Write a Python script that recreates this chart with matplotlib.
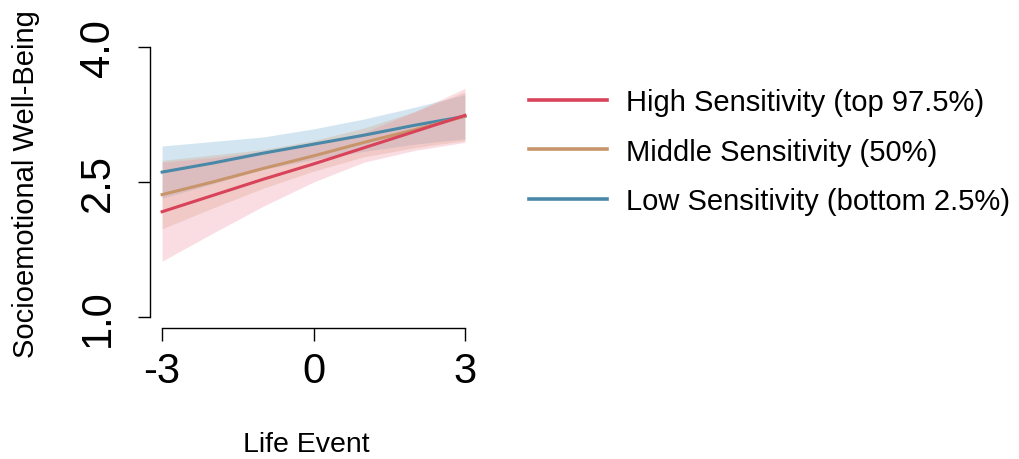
import numpy as np
import matplotlib.pyplot as plt

plt.rcParams['font.family'] = ['Liberation Sans', 'DejaVu Sans']

# Life event (standardised)
x = [-3, -2, -1, 0, 1, 2, 3]

# Low sensitivity (bottom 2.5%)
low_fit = [2.61, 2.71, 2.82, 2.92, 3.02, 3.13, 3.23]
low_lo = [2.32, 2.48, 2.64, 2.75, 2.84, 2.92, 2.98]
low_hi = [2.90, 2.95, 3.00, 3.09, 3.20, 3.33, 3.47]

# Middle sensitivity (50%)
mid_fit = [2.36, 2.50, 2.65, 2.79, 2.94, 3.08, 3.23]
mid_lo = [1.98, 2.21, 2.43, 2.62, 2.78, 2.88, 2.96]
mid_hi = [2.74, 2.80, 2.86, 2.96, 3.10, 3.28, 3.50]

# High sensitivity (top 97.5%)
high_fit = [2.17, 2.35, 2.53, 2.70, 2.88, 3.06, 3.24]
high_lo = [1.62, 1.93, 2.23, 2.50, 2.72, 2.85, 2.94]
high_hi = [2.72, 2.77, 2.84, 2.92, 3.05, 3.28, 3.54]

labels = ['High Sensitivity (top 97.5%)', 'Middle Sensitivity (50%)',
          'Low Sensitivity (bottom 2.5%)']
line_cols = ['#D9435A', '#C8956A', '#4A88A8']
band_cols = ['#F090A0', '#D4A580', '#9CC6DE']

fig = plt.figure(figsize=(10.19, 4.6), dpi=100)
ax = fig.add_axes([150 / 1019, (460 - 328.8) / 460, 327 / 1019, 291.6 / 460])

# bands first, then lines
ax.fill_between(x, low_lo, low_hi, color=band_cols[2], alpha=0.45, lw=0)
ax.fill_between(x, mid_lo, mid_hi, color=band_cols[1], alpha=0.3, lw=0)
ax.fill_between(x, high_lo, high_hi, color=band_cols[0], alpha=0.3, lw=0)

h3, = ax.plot(x, low_fit, color=line_cols[2], lw=2.2)
h2, = ax.plot(x, mid_fit, color=line_cols[1], lw=2.2)
h1, = ax.plot(x, high_fit, color=line_cols[0], lw=2.2)

ax.set_xlim(-3.24, 3.24)
ax.set_ylim(0.88, 4.12)
ax.set_xticks([-3, 0, 3])
ax.set_xticklabels(['-3', '0', '3'])
ax.set_yticks([1.0, 2.5, 4.0])
ax.set_yticklabels(['1.0', '2.5', '4.0'])
for s in ['top', 'right']:
    ax.spines[s].set_visible(False)
ax.spines['left'].set_bounds(1.0, 4.0)
ax.spines['bottom'].set_bounds(-3, 3)
for s in ['left', 'bottom']:
    ax.spines[s].set_linewidth(1.0)
ax.tick_params(axis='both', length=9, width=1.0, labelsize=30)
ax.tick_params(axis='y', pad=14)
ax.tick_params(axis='x', pad=8)
plt.setp(ax.get_yticklabels(), rotation=90, va='center')

fig.text(26 / 1019, 1 - 184 / 460, 'Socioemotional Well-Being', rotation=90,
         ha='center', va='center', fontsize=21)
fig.text(306 / 1019, 1 - 445 / 460, 'Life Event', ha='center', va='center',
         fontsize=20.5)

fig.legend([h1, h2, h3], labels, loc='upper left',
           bbox_to_anchor=(529 / 1019, 1 - 89 / 460), frameon=False,
           fontsize=21, handlelength=2.67, handletextpad=0.65, labelspacing=0.74,
           borderpad=0, borderaxespad=0)
for lh in fig.legends[0].get_lines():
    lh.set_linewidth(2.6)

fig.savefig('out.png', dpi=100)
